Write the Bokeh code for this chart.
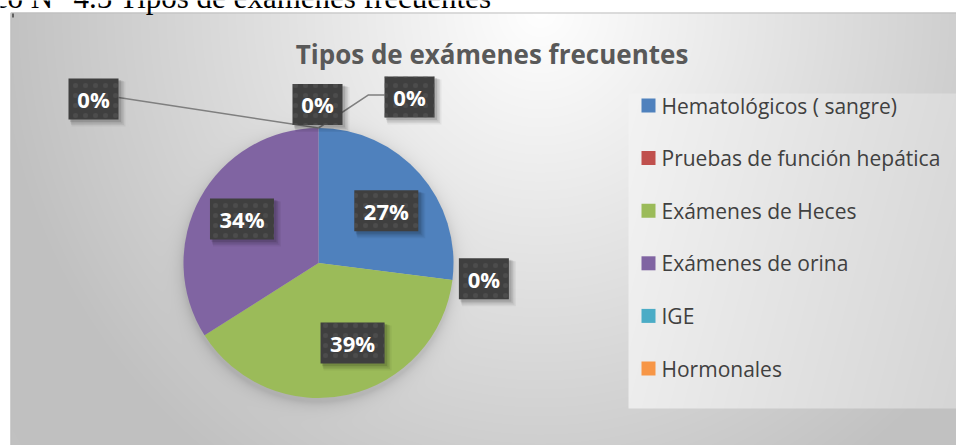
import numpy as np
from bokeh.plotting import figure
from bokeh.models import Range1d, ColumnDataSource
from bokeh.core.properties import value
from bokeh.embed import file_html
from bokeh.resources import INLINE

# ---------------- data ----------------
categories = ["Hematológicos ( sangre)", "Pruebas de función hepática", "Exámenes de Heces",
              "Exámenes de orina", "IGE", "Hormonales"]
percentages = [27, 0, 39, 34, 0, 0]
extra_percentages = [0]   # a seventh zero slice whose legend entry does not fit in the legend box
colors = ["#4F81BD", "#C0504D", "#9BBB59", "#8064A2", "#4BACC6", "#F79646"]
title_text = "Tipos de exámenes frecuentes"
caption_text = "Gráfico N° 4.5 Tipos de exámenes frecuentes"

# ---------------- layout / style ----------------
W, H = 956, 445
def X(rx): return rx
def Y(ry): return H - ry

PIE_CX, PIE_CY, PIE_R = 318.0, 262.5, 135.0      # page px
LABEL_R = 0.63
# label nudges in screen px (right, down) from the default in-slice anchor
label_nudges = [(4, 4), (81, 5), (15.5, -3), (-2, -3), (-225, -79), (-1, -73.5), (91, -81)]
leaders = [None, None, None, None, "straight", None, "elbow"]

p = figure(width=W, height=H, x_range=Range1d(0, W), y_range=Range1d(0, H),
           output_backend="svg", toolbar_location=None, min_border=0)
p.axis.visible = False
p.grid.visible = False
p.outline_line_color = None
p.background_fill_color = "white"
p.border_fill_color = "white"

# ---------------- background (gradient chart area, legend panel, pie shadow) ----------------
xs = np.arange(W) + 0.5
ys = np.arange(H) + 0.5
XX, YY = np.meshgrid(xs, ys)
d = np.sqrt(((XX - 540) / 540) ** 2 + ((YY - 10) / 560) ** 2)
g = 255 - 62 * np.clip(d, 0, 1)
leg = (XX >= 628) & (YY >= 93) & (YY <= 408)
g_leg = 243 - 24 * (XX - 628) / (956 - 628) - 6 * (YY - 93) / 315
g = np.where(leg, g_leg, g)
ds = np.sqrt((XX - PIE_CX) ** 2 + (YY - (PIE_CY + 4)) ** 2) - PIE_R
shade = 26 * np.exp(-np.clip(ds, 0, None) / 6)
g = g - np.where(leg, 0, shade)
inside = (XX >= 10) & (YY >= 12)
g = np.where(inside, g, 255)
g8 = np.clip(g, 0, 255).astype(np.uint8)
img = np.zeros((H, W, 4), dtype=np.uint8)
img[..., 0] = g8
img[..., 1] = g8
img[..., 2] = g8
img[..., 3] = 255
img = np.ascontiguousarray(img[::-1])
p.image_rgba(image=[img.view(np.uint32).reshape(H, W)], x=0, y=0, dw=W, dh=H)

# border of chart area and the small mark at its corner
p.line(x=[X(10.5), X(10.5), X(956)], y=[Y(445), Y(12.5), Y(12.5)], line_color="#bdbdbd", line_width=1)
p.line(x=[X(12.5), X(12.5)], y=[Y(13), Y(17)], line_color="black", line_width=1)

# caption (its upper part lies above the page, as in the source)
p.text(x=[X(491)], y=[Y(-3)], text=[caption_text], text_align="right", text_baseline="alphabetic",
       text_font=value("Liberation Serif"), text_font_size="31px", text_color="black")

# ---------------- pie ----------------
all_vals = percentages + extra_percentages
total = float(sum(all_vals))
cum = np.concatenate([[0], np.cumsum(all_vals)]) / total
starts = np.pi / 2 - 2 * np.pi * cum[:-1]
ends = np.pi / 2 - 2 * np.pi * cum[1:]
keep = [i for i in range(len(percentages)) if percentages[i] > 0]
src = ColumnDataSource(dict(start=[starts[i] for i in keep], end=[ends[i] for i in keep],
                            color=[colors[i] for i in keep]))
cx, cy = X(PIE_CX), Y(PIE_CY)
p.wedge(x=cx, y=cy, radius=PIE_R, start_angle="start", end_angle="end", direction="clock",
        fill_color="color", line_color=None, source=src)

# ---------------- data labels ----------------
lx, ly, lw, texts = [], [], [], []
for i, v in enumerate(all_vals):
    mid = 2 * np.pi * (cum[i] + cum[i + 1]) / 2
    ax = cx + LABEL_R * PIE_R * np.sin(mid)
    ay = cy + LABEL_R * PIE_R * np.cos(mid)
    nx, ny = label_nudges[i]
    t = f"{v:.0f}%"
    bw = 22 + 14 * len(t)
    bx, by = ax + nx, ay - ny
    lx.append(bx); ly.append(by); lw.append(bw); texts.append(t)
    edge_x = cx + PIE_R * np.sin(2 * np.pi * cum[i])
    edge_y = cy + PIE_R * np.cos(2 * np.pi * cum[i])
    if leaders[i] == "straight":
        p.line(x=[bx + bw / 2, edge_x], y=[by + 1.5, edge_y], line_color="#7f7f7f", line_width=1.5)
    elif leaders[i] == "elbow":
        p.line(x=[bx - bw / 2, bx - bw / 2 - 16, edge_x], y=[by + 2, by + 2, edge_y],
               line_color="#7f7f7f", line_width=1.5)

lsrc = ColumnDataSource(dict(x=lx, y=ly, w=lw, t=texts))
for k, a in [(6, 0.05), (5, 0.06), (4, 0.08), (3, 0.10)]:
    lsrc.data[f"sx{k}"] = [v + k - 1 for v in lx]
    lsrc.data[f"sy{k}"] = [v - k + 1 for v in ly]
    lsrc.data[f"sw{k}"] = [v + k - 2 for v in lw]
    p.rect(x=f"sx{k}", y=f"sy{k}", width=f"sw{k}", height=41 + k - 2, source=lsrc,
           fill_color="black", fill_alpha=a, line_color=None)
p.rect(x="x", y="y", width="w", height=41, source=lsrc, fill_color="#3f3f3f", line_color=None,
       hatch_pattern="dot", hatch_color="#5c5c5c", hatch_scale=10, hatch_weight=1, hatch_alpha=0.45)
p.text(x="x", y="y", text="t", source=lsrc, text_align="center", text_baseline="middle",
       text_font=value("Open Sans"), text_font_style="bold", text_font_size="22px", text_color="white")

# ---------------- title ----------------
p.text(x=[X(491.5)], y=[Y(53)], text=[title_text], text_align="center", text_baseline="middle",
       text_font=value("Open Sans"), text_font_style="bold", text_font_size="26px", text_color="#595959")

# ---------------- legend ----------------
LEG_X, LEG_Y0, LEG_DY = 648, 105, 52.6
legsrc = ColumnDataSource(dict(
    mx=[X(LEG_X)] * len(categories),
    my=[Y(LEG_Y0 + k * LEG_DY) for k in range(len(categories))],
    tx=[X(LEG_X + 13)] * len(categories),
    name=categories, color=colors))
p.rect(x="mx", y="my", width=14, height=14, source=legsrc, fill_color="color", line_color=None)
p.text(x="tx", y="my", text="name", source=legsrc, text_align="left", text_baseline="middle",
       text_font=value("Open Sans"), text_font_size="21px", text_color="#404040")

open("out.html", "w").write(file_html(p, INLINE))
